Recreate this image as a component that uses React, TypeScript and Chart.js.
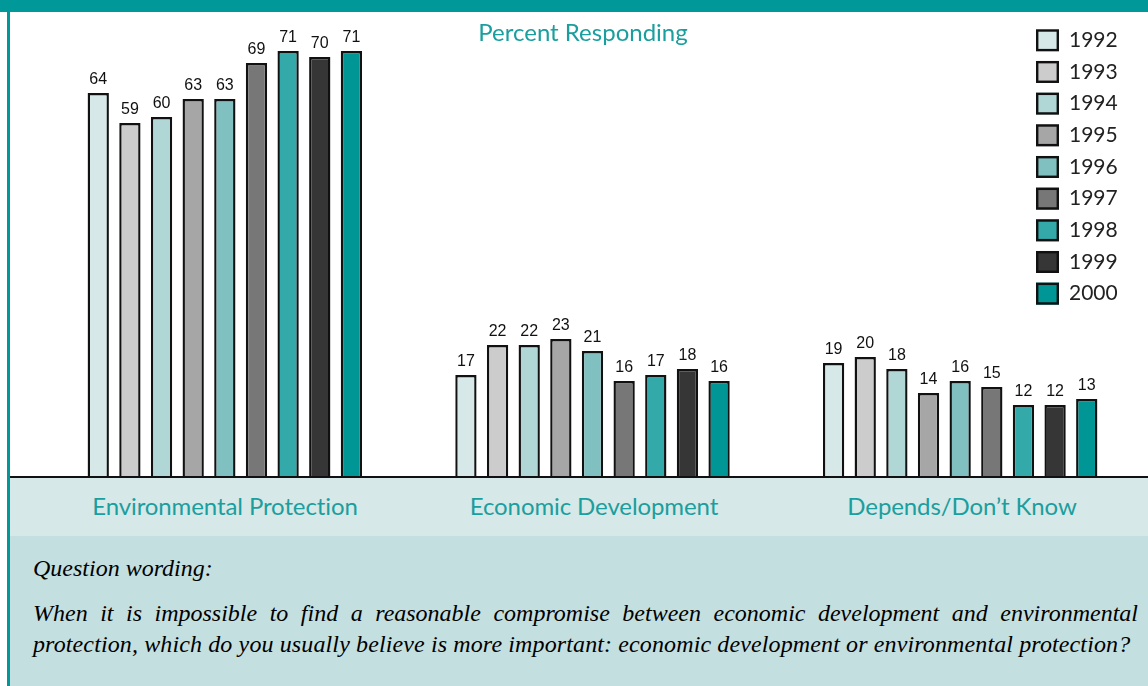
import React, { useEffect, useRef } from "react";
import { Chart, registerables } from "chart.js";

Chart.register(...registerables);

const categories = ["Environmental Protection", "Economic Development", "Depends/Don’t Know"];
const years = ["1992", "1993", "1994", "1995", "1996", "1997", "1998", "1999", "2000"];
const values1992 = [64, 17, 19];
const values1993 = [59, 22, 20];
const values1994 = [60, 22, 18];
const values1995 = [63, 23, 14];
const values1996 = [63, 21, 16];
const values1997 = [69, 16, 15];
const values1998 = [71, 17, 12];
const values1999 = [70, 18, 12];
const values2000 = [71, 16, 13];
const seriesValues = [values1992, values1993, values1994, values1995, values1996, values1997, values1998, values1999, values2000];
const yearColors = ["#d6e8e8", "#cccccc", "#b0d6d6", "#a6a6a6", "#80c0c0", "#777777", "#33a9a9", "#363636", "#009696"];

const chartTitle = "Percent Responding";
const questionLabel = "Question wording:";
const questionLine1 = "When it is impossible to find a reasonable compromise between economic development and environmental";
const questionLine2 = "protection, which do you usually believe is more important: economic development or environmental protection?";

const TEAL = "#009898";
const TEAL_TEXT = "#1b9e9e";
const CAT_CENTERS = [225, 594, 962];

const valueLabelPlugin = {
  id: "valueLabels",
  afterDatasetsDraw(chart: any) {
    const ctx = chart.ctx;
    ctx.save();
    ctx.font = "16px 'Liberation Sans', Arial, sans-serif";
    ctx.fillStyle = "#111";
    ctx.textAlign = "center";
    ctx.textBaseline = "alphabetic";
    chart.data.datasets.forEach((ds: any, di: number) => {
      const meta = chart.getDatasetMeta(di);
      meta.data.forEach((el: any, i: number) => {
        ctx.fillText(String(ds.data[i]), el.x, el.y - 9);
      });
    });
    ctx.restore();
  },
};

const legendPlugin = {
  id: "customLegend",
  afterDraw(chart: any) {
    const ctx = chart.ctx;
    ctx.save();
    const x0 = 1026;
    const y0 = 17.3;
    const step = 31.67;
    chart.data.datasets.forEach((ds: any, i: number) => {
      const y = y0 + i * step;
      ctx.fillStyle = ds.backgroundColor;
      ctx.fillRect(x0, y, 23, 22);
      ctx.strokeStyle = "#111";
      ctx.lineWidth = 2.4;
      ctx.strokeRect(x0 + 1.2, y + 1.2, 20.6, 19.6);
      ctx.fillStyle = "#222";
      ctx.font = "21px Lato, sans-serif";
      ctx.textAlign = "left";
      ctx.textBaseline = "middle";
      ctx.fillText(ds.label, x0 + 33, y + 11);
    });
    ctx.restore();
  },
};

export default function App() {
  const ref = useRef<HTMLCanvasElement>(null);
  useEffect(() => {
    const canvas = ref.current;
    if (!canvas) return;
    const datasets = years.map((y, i) => ({
      label: y,
      data: seriesValues[i],
      backgroundColor: yearColors[i],
      borderColor: "#111",
      borderWidth: 2.4,
      borderSkipped: "bottom" as const,
      categoryPercentage: 0.7746,
      barPercentage: 0.673,
    }));
    const chart = new Chart(canvas, {
      type: "bar",
      data: { labels: categories, datasets },
      options: {
        animation: false,
        responsive: false,
        maintainAspectRatio: false,
        layout: { padding: { left: 31, right: 4, top: 0, bottom: 0 } },
        scales: {
          x: { display: false },
          y: { display: false, min: 0, max: 77.5 },
        },
        plugins: { legend: { display: false }, tooltip: { enabled: false } },
      },
      plugins: [valueLabelPlugin, legendPlugin],
    });
    return () => chart.destroy();
  }, []);

  const qStyle: React.CSSProperties = {
    position: "absolute",
    left: 33,
    fontFamily: "'Liberation Serif', serif",
    fontStyle: "italic",
    fontSize: 24,
    lineHeight: "31px",
    color: "#000",
    whiteSpace: "nowrap",
  };

  return (
    <div style={{ position: "absolute", left: 0, top: 0, width: 1148, height: 686, background: "#fff", overflow: "hidden" }}>
      <div style={{ position: "absolute", left: 0, top: 0, width: 1148, height: 12, background: TEAL }} />
      <div style={{ position: "absolute", left: 7, top: 12, width: 3, height: 674, background: TEAL }} />
      <div style={{ position: "absolute", left: 10, top: 478, width: 1138, height: 58, background: "#d6e8e8" }} />
      <div style={{ position: "absolute", left: 10, top: 536, width: 1138, height: 150, background: "#c4dfdf" }} />
      <canvas ref={ref} width={1138} height={465} style={{ position: "absolute", left: 10, top: 12, width: 1138, height: 465 }} />
      <div style={{ position: "absolute", left: 10, top: 476, width: 1138, height: 2, background: "#111" }} />
      <div style={{ position: "absolute", left: 383, top: 19.5, width: 400, textAlign: "center", font: "24px Lato, sans-serif", lineHeight: "24px", color: TEAL_TEXT, whiteSpace: "nowrap" }}>
        {chartTitle}
      </div>
      {categories.map((c, i) => (
        <div key={c} style={{ position: "absolute", left: CAT_CENTERS[i] - 200, top: 494, width: 400, textAlign: "center", font: "24px Lato, sans-serif", lineHeight: "24px", color: TEAL_TEXT, whiteSpace: "nowrap", letterSpacing: "-0.1px" }}>
          {c}
        </div>
      ))}
      <div style={{ ...qStyle, top: 553 }}>{questionLabel}</div>
      <div style={{ ...qStyle, top: 598, width: 1105, textAlign: "justify", textAlignLast: "justify" as any }}>{questionLine1}</div>
      <div style={{ ...qStyle, top: 629, letterSpacing: "0.12px" }}>{questionLine2}</div>
    </div>
  );
}
